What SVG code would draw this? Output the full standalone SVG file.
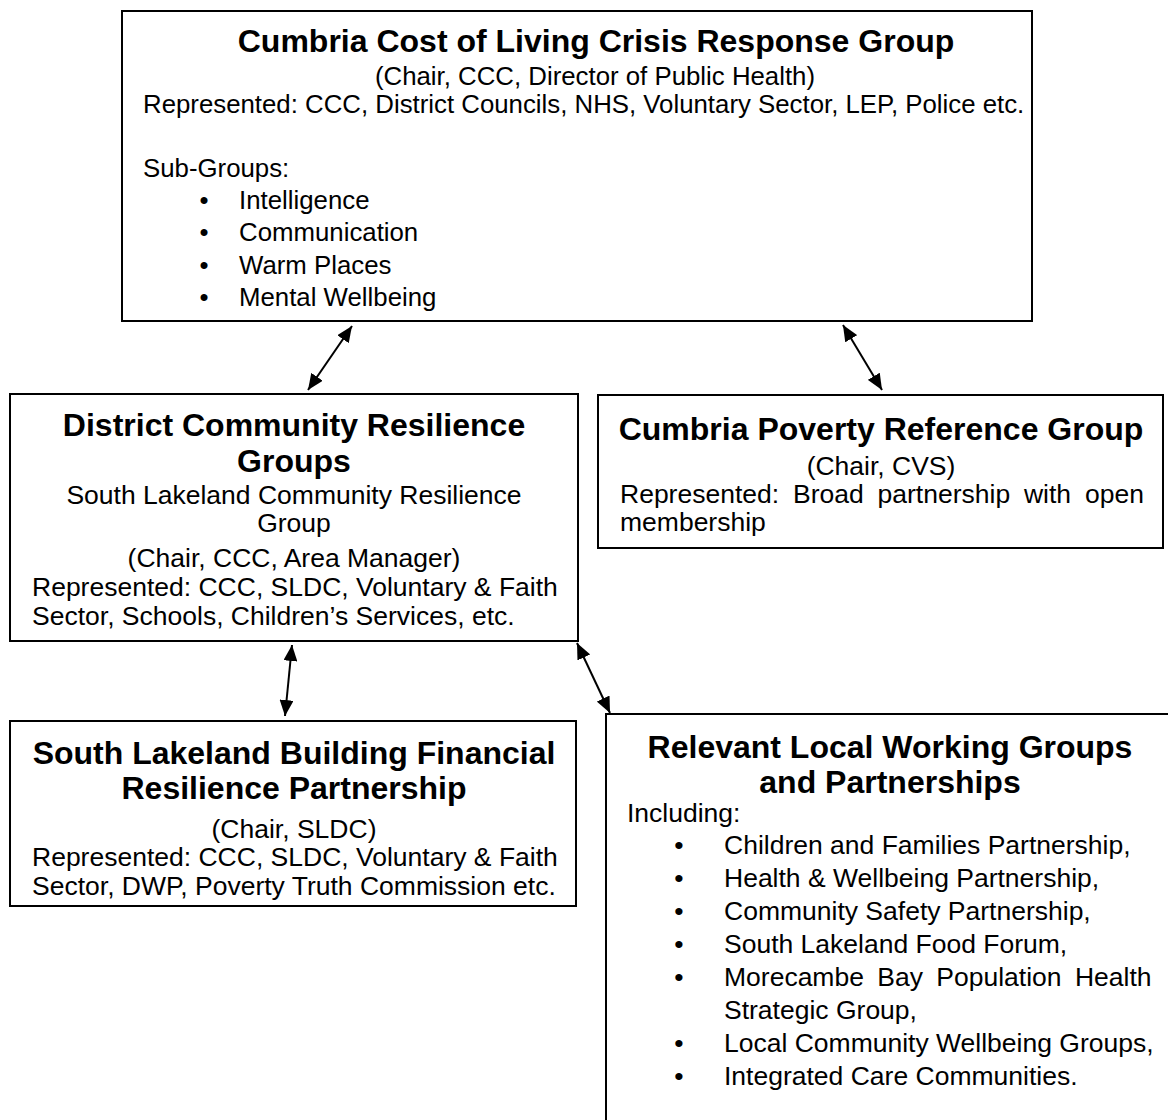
<svg xmlns="http://www.w3.org/2000/svg" width="1168" height="1120" viewBox="0 0 1168 1120">
<style>
.box{fill:#fff;stroke:#000;stroke-width:2}
text{font-family:"Liberation Sans",Arial,sans-serif;fill:#000}
.t{font-size:32px;font-weight:bold;text-anchor:middle}
.b{font-size:26.5px}
.bt{font-size:25.8px}
.c{text-anchor:middle}
.conn{stroke:#000;stroke-width:2;fill:none;marker-start:url(#ah);marker-end:url(#ah)}
</style>
<defs>
<marker id="ah" viewBox="0 0 16 14" refX="16" refY="7" markerWidth="16" markerHeight="14" markerUnits="userSpaceOnUse" orient="auto-start-reverse">
<path d="M0,0 L16,7 L0,14 Z" fill="#000"/>
</marker>
</defs>
<rect width="1168" height="1120" fill="#fff"/>
<g id="top">
<rect class="box" x="122" y="11" width="910" height="310"/>
<text class="t" x="596" y="51.5">Cumbria Cost of Living Crisis Response Group</text>
<text class="bt c" x="595" y="85">(Chair, CCC, Director of Public Health)</text>
<text class="bt" x="143" y="113">Represented: CCC, District Councils, NHS, Voluntary Sector, LEP, Police etc.</text>
<text class="bt" x="143" y="177">Sub-Groups:</text>
<text class="bt c" x="204" y="209">•</text><text class="bt" x="239" y="209">Intelligence</text>
<text class="bt c" x="204" y="241">•</text><text class="bt" x="239" y="241">Communication</text>
<text class="bt c" x="204" y="274">•</text><text class="bt" x="239" y="274">Warm Places</text>
<text class="bt c" x="204" y="306">•</text><text class="bt" x="239" y="306">Mental Wellbeing</text>
</g>
<g id="district">
<rect class="box" x="10" y="394" width="568" height="247"/>
<text class="t" x="294" y="435.5">District Community Resilience</text>
<text class="t" x="294" y="471.5">Groups</text>
<text class="b c" x="294" y="504">South Lakeland Community Resilience</text>
<text class="b c" x="294" y="532">Group</text>
<text class="b c" x="294" y="567">(Chair, CCC, Area Manager)</text>
<text class="b" x="32" y="596">Represented: CCC, SLDC, Voluntary &amp; Faith</text>
<text class="b" x="32" y="625">Sector, Schools, Children’s Services, etc.</text>
</g>
<g id="poverty">
<rect class="box" x="598" y="395" width="565" height="153"/>
<text class="t" x="881" y="439.5">Cumbria Poverty Reference Group</text>
<text class="b c" x="881" y="475">(Chair, CVS)</text>
<text class="b" x="620" y="503" word-spacing="6.5">Represented: Broad partnership with open</text>
<text class="b" x="620" y="531">membership</text>
</g>
<g id="building">
<rect class="box" x="10" y="721" width="566" height="185"/>
<text class="t" x="294" y="763.5">South Lakeland Building Financial</text>
<text class="t" x="294" y="798.5">Resilience Partnership</text>
<text class="b c" x="294" y="838">(Chair, SLDC)</text>
<text class="b" x="32" y="866">Represented: CCC, SLDC, Voluntary &amp; Faith</text>
<text class="b" x="32" y="895">Sector, DWP, Poverty Truth Commission etc.</text>
</g>
<g id="local">
<rect class="box" x="606" y="714" width="600" height="440"/>
<text class="t" x="890" y="757.5">Relevant Local Working Groups</text>
<text class="t" x="890" y="793">and Partnerships</text>
<text class="b" x="627" y="822">Including:</text>
<text class="b c" x="679" y="854">•</text><text class="b" x="724" y="854">Children and Families Partnership,</text>
<text class="b c" x="679" y="887">•</text><text class="b" x="724" y="887">Health &amp; Wellbeing Partnership,</text>
<text class="b c" x="679" y="920">•</text><text class="b" x="724" y="920">Community Safety Partnership,</text>
<text class="b c" x="679" y="953">•</text><text class="b" x="724" y="953">South Lakeland Food Forum,</text>
<text class="b c" x="679" y="986">•</text><text class="b" x="724" y="986" word-spacing="6">Morecambe Bay Population Health</text>
<text class="b" x="724" y="1019">Strategic Group,</text>
<text class="b c" x="679" y="1052">•</text><text class="b" x="724" y="1052">Local Community Wellbeing Groups,</text>
<text class="b c" x="679" y="1085">•</text><text class="b" x="724" y="1085">Integrated Care Communities.</text>
</g>
<g id="connectors">
<line class="conn" x1="352" y1="326" x2="308" y2="390"/>
<line class="conn" x1="843" y1="325" x2="882" y2="390"/>
<line class="conn" x1="292" y1="645" x2="285" y2="716"/>
<line class="conn" x1="577" y1="643" x2="610" y2="713"/>
</g>
</svg>
